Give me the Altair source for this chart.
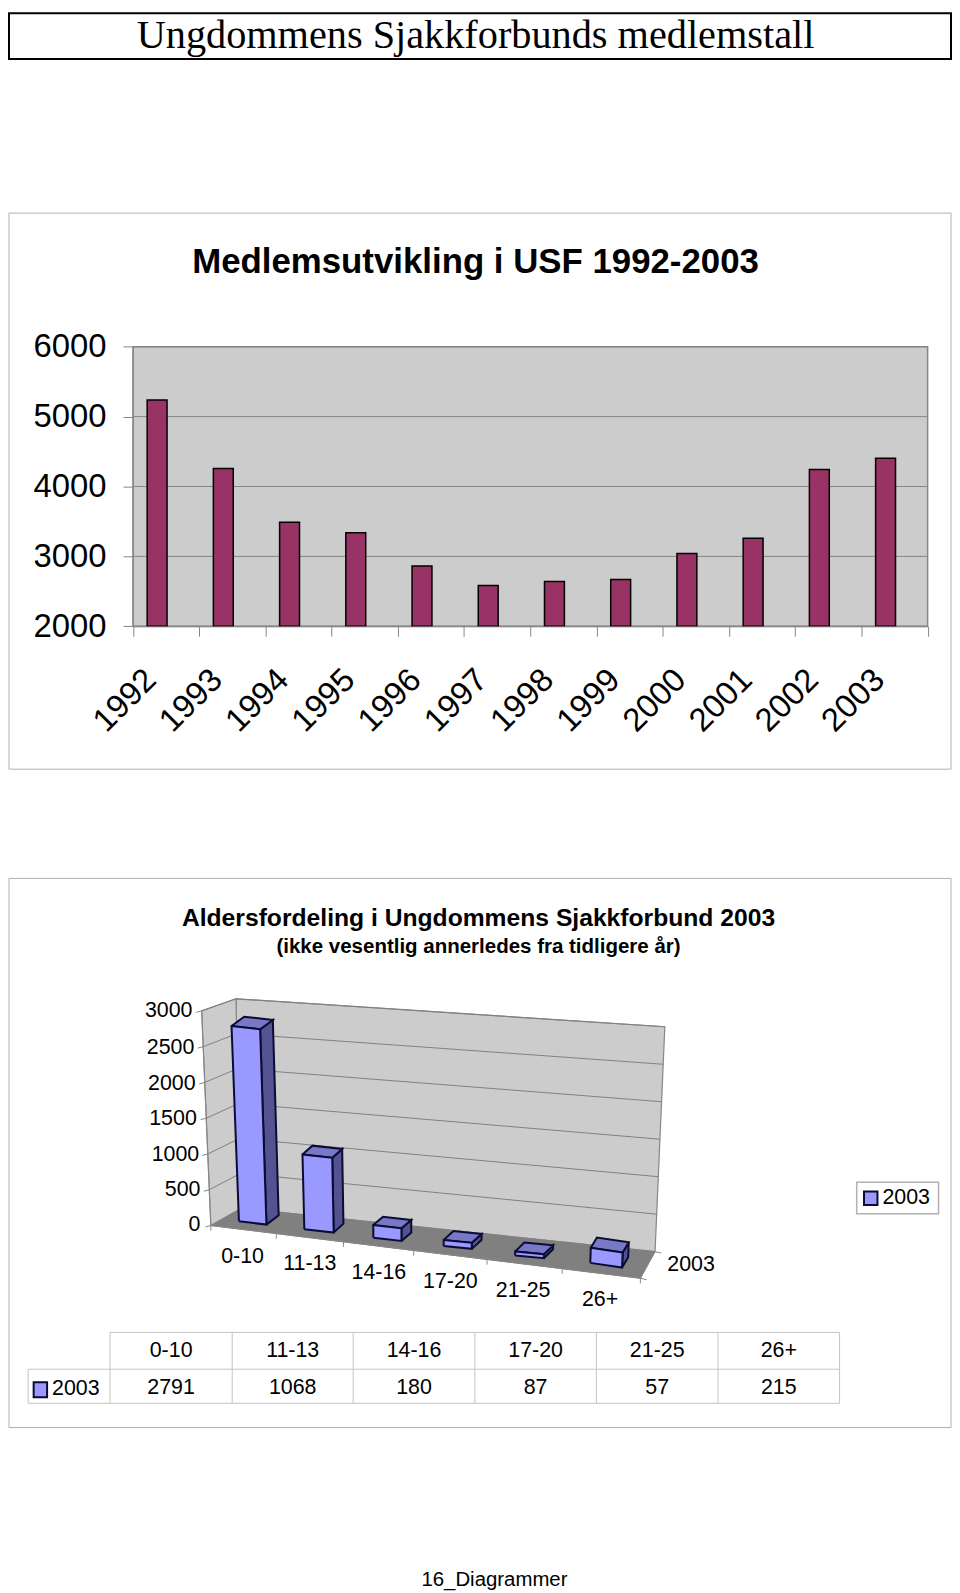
import altair as alt
import pandas as pd

# ---------- data ----------
years = ["1992","1993","1994","1995","1996","1997","1998","1999","2000","2001","2002","2003"]
members = [5237,4259,3489,3338,2863,2583,2640,2669,3043,3259,4245,4403]
member_ticks = [2000,3000,4000,5000,6000]
age_groups = ["0-10","11-13","14-16","17-20","21-25","26+"]
age_counts = [2791,1068,180,87,57,215]
age_ticks = [0,500,1000,1500,2000,2500,3000]
series_name = "2003"

page_title = "Ungdommens Sjakkforbunds medlemstall"
title1 = "Medlemsutvikling i USF 1992-2003"
title2a = "Aldersfordeling i Ungdommens Sjakkforbund 2003"
title2b = "(ikke vesentlig annerledes fra tidligere år)"
footer = "16_Diagrammer"

# ---------- layout ----------
W, H = 949, 1583
SANS, SERIF = "Liberation Sans", "Liberation Serif"
PX = alt.X("x:Q", scale=alt.Scale(domain=[0, W], range=[0, W]), axis=None)
PY = alt.Y("y:Q", scale=alt.Scale(domain=[0, H], range=[0, H]), axis=None)
one = pd.DataFrame({"a": [0]})

def rx(x): return x - 8
def ry(y): return y - 8
def zx(x): return x / 1.628 - 8           # oblique panel reference frame
def zy(y): return 861 + y / 2.132 - 8

def box(x1, y1, x2, y2, fill="#ffffff", stroke="#a6a6a6", sw=1.0):
    return alt.Chart(one).mark_rect(fill=fill, stroke=stroke, strokeWidth=sw).encode(
        x=alt.value(x1), x2=alt.value(x2), y=alt.value(y1), y2=alt.value(y2))

def poly(shapes, fill=None, stroke="#000000", sw=1.0):
    rows = []
    for k, pts in enumerate(shapes):
        for i, (x, y) in enumerate(pts):
            rows.append({"id": k, "i": i, "x": zx(x), "y": zy(y)})
    kw = {"stroke": stroke, "strokeWidth": sw, "clip": False}
    if fill:
        kw["fill"] = fill
    return alt.Chart(pd.DataFrame(rows)).mark_line(**kw).encode(
        x=PX, y=PY, detail="id:N", order="i:Q")

def texts(items, size, font=SANS, bold=False, align="center", baseline="middle"):
    df = pd.DataFrame([{"x": x, "y": y, "t": t} for x, y, t in items])
    return alt.Chart(df).mark_text(fontSize=size, font=font, fontWeight="bold" if bold else "normal",
                                   align=align, baseline=baseline, color="#000000").encode(
        x=PX, y=PY, text="t:N")

layers = []

# ---------- page heading ----------
layers.append(box(1, 1, W - 1, ry(55), stroke="#000000", sw=2))
layers.append(texts([(rx(478), ry(44.5), page_title)], 40.5, font=SERIF, baseline="alphabetic"))

# ---------- column chart ----------
L1, R1, T1, B1 = rx(133.6), rx(932.5), ry(344.3), ry(625.4)
layers.append(box(1, ry(210), W - 1, ry(769), stroke="#b0b0b0"))
layers.append(texts([(rx(478), ry(270), title1)], 35, bold=True, baseline="alphabetic"))
layers.append(box(L1, T1, R1, B1, fill="#cccccc", stroke="#868686", sw=1.5))

y1_scale = alt.Scale(domain=[2000, 6000], range=[B1, T1], zero=False, nice=False)
layers.append(alt.Chart(pd.DataFrame({"v": member_ticks})).mark_rule(color="#868686", strokeWidth=1).encode(
    x=alt.value(L1), x2=alt.value(R1), y=alt.Y("v:Q", scale=y1_scale, axis=None)))

df1 = pd.DataFrame({"year": years, "n": members})
layers.append(alt.Chart(df1).mark_bar(fill="#993366", stroke="#000000", strokeWidth=1.5, size=20, xOffset=-9).encode(
    x=alt.X("year:N", sort=years,
            scale=alt.Scale(domain=years, range=[L1, R1], paddingInner=0, paddingOuter=0),
            axis=alt.Axis(title=None, orient="bottom", offset=B1 - H, labelAngle=-45, tickBand="extent",
                          domainColor="#868686", tickColor="#868686", tickSize=10, labelFontSize=33,
                          labelFont=SANS, labelColor="#000000", labelPadding=27, labelOffset=-27,
                          labelOverlap=False, zindex=1)),
    y=alt.Y("n:Q", scale=y1_scale, stack=None,
            axis=alt.Axis(title=None, orient="left", offset=-L1, values=member_ticks, format="d",
                          domainColor="#868686", tickColor="#868686", tickSize=10, labelFontSize=33,
                          labelFont=SANS, labelColor="#000000", labelPadding=17, grid=False,
                          zindex=1)),
    y2=alt.Y2(datum=2000)))

# ---------- oblique column chart ----------
layers.append(box(1, zy(38), W - 1, zy(1215), stroke="#b0b0b0"))
layers.append(texts([(rx(481), ry(927), title2a)], 24.8, bold=True, baseline="alphabetic"))
layers.append(texts([(rx(481), ry(954), title2b)], 20.6, bold=True, baseline="alphabetic"))

VMAX = age_ticks[-1]
def lerp(a, b, t): return a + (b - a) * t
FL0, FL1 = (345, 782), (330, 322)       # front corner, value 0 and max
BL0, BL1 = (395, 745), (386, 296)       # back-left corner
BR0, BR1 = (1072, 838), (1088, 356)     # back-right corner
FR0 = (1048, 895)                       # front-right floor corner
def on(p0, p1, v):
    t = v / VMAX
    return (lerp(p0[0], p1[0], t), lerp(p0[1], p1[1], t))

layers.append(poly([[BL1, BR1, BR0, BL0, BL1]], fill="#cccccc", stroke="#868686", sw=1.2))
layers.append(poly([[FL1, BL1, BL0, FL0, FL1]], fill="#cccccc", stroke="#868686", sw=1.2))
layers.append(poly([[FL0, BL0, BR0, FR0, FL0]], fill="#808080", stroke="#808080", sw=1))
layers.append(poly([[on(FL0, FL1, v), on(BL0, BL1, v), on(BR0, BR1, v)] for v in age_ticks[1:]],
                   stroke="#808080", sw=1))

# axis ticks
ytick = [[(on(FL0, FL1, v)[0] - 9, on(FL0, FL1, v)[1] + 3), on(FL0, FL1, v)] for v in age_ticks]
xtick_x = [345, 452, 562, 677, 797, 920, 1048]
xtick = [[(x, lerp(782, 895, (x - 345) / 703)), (x, lerp(782, 895, (x - 345) / 703) + 11)] for x in xtick_x]
dtick = [[BR0, (BR0[0] + 10, BR0[1] + 3)], [FR0, (FR0[0] + 10, FR0[1] + 3)]]
layers.append(poly(ytick + xtick + dtick + [[FL1, FL0, FR0, BR0]], stroke="#868686", sw=1))

# columns: floor footprint of each one (front-left, front-right, back-right)
foot = [((391, 773), (436, 780), (456, 760)),
        ((498, 790), (546, 797), (562, 778)),
        ((611, 808), (657, 815), (673, 797)),
        ((726, 826), (772, 832), (788, 813)),
        ((843, 846), (890, 852), (905, 833)),
        ((966, 862), (1018, 872), (1028, 850))]
UNIT = 0.15
def up(p, v):
    lean = lerp(-15, 16, (p[0] - 345) / 727) / VMAX
    return (p[0] + lean * v, p[1] - UNIT * v)
fronts, sides, tops = [], [], []
for (a, b, c), v in zip(foot, age_counts):
    d = (a[0] + c[0] - b[0], a[1] + c[1] - b[1])
    fronts.append([a, b, up(b, v), up(a, v), a])
    sides.append([b, c, up(c, v), up(b, v), b])
    tops.append([up(a, v), up(b, v), up(c, v), up(d, v), up(a, v)])
NAVY = "#0b0b33"
layers.append(poly(sides, fill="#535391", stroke=NAVY, sw=2))
layers.append(poly(tops, fill="#7878c8", stroke=NAVY, sw=2))
layers.append(poly(fronts, fill="#9999ff", stroke=NAVY, sw=2))

# axis labels
yl_right = [328, 328, 326, 322, 320, 318, 315]
yl_y = [780, 706, 630, 554, 478, 401, 322]
layers.append(texts([(zx(x), zy(y), str(v)) for x, y, v in zip(yl_right, yl_y, age_ticks)], 21.5, align="right"))
xl_x = [397, 507, 620, 737, 856, 982]
xl_y = [850, 865, 884, 904, 922, 942]
layers.append(texts([(zx(x), zy(y), s) for x, y, s in zip(xl_x, xl_y, age_groups)], 21.5))
layers.append(texts([(zx(1131), zy(866), series_name)], 21.5))

# legend
layers.append(box(zx(1402), zy(689), zx(1536), zy(757), stroke="#b0b0b0", sw=1.5))
layers.append(box(zx(1414), zy(709), zx(1436), zy(738), fill="#9999ff", stroke=NAVY, sw=2))
layers.append(texts([(zx(1483), zy(724), series_name)], 21.5))

# data table
col_x = [180, 380, 578, 777, 976, 1175, 1374]
table_lines = [[(180, 1011), (1374, 1011)], [(46, 1090), (1374, 1090)], [(46, 1163), (1374, 1163)],
               [(46, 1090), (46, 1163)]] + [[(x, 1011), (x, 1163)] for x in col_x]
layers.append(poly(table_lines, stroke="#c4c4c4", sw=1))
mid = [(a + b) / 2 for a, b in zip(col_x[:-1], col_x[1:])]
layers.append(texts([(zx(x), zy(1050), s) for x, s in zip(mid, age_groups)], 21.5))
layers.append(texts([(zx(x), zy(1130), str(v)) for x, v in zip(mid, age_counts)], 21.5))
layers.append(box(zx(55), zy(1118), zx(77), zy(1150), fill="#9999ff", stroke=NAVY, sw=2))
layers.append(texts([(zx(124), zy(1132), series_name)], 21.5))

# footer
layers.append(texts([(rx(497), ry(1584), footer)], 20.5))

chart = (alt.layer(*layers)
         .resolve_scale(x="independent", y="independent")
         .properties(width=W, height=H, padding=0, autosize=alt.AutoSizeParams(type="none"), background="#ffffff")
         .configure_view(stroke=None))

chart.save("out.html", embed_options={"renderer": "svg", "actions": False})
